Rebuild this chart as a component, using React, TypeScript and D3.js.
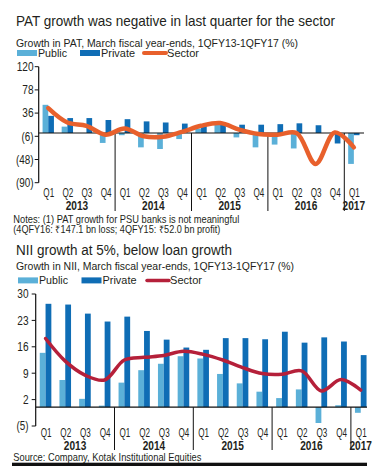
import React from "react";
import * as d3 from "d3";

const quarters = ["Q1","Q2","Q3","Q4","Q1","Q2","Q3","Q4","Q1","Q2","Q3","Q4","Q1","Q2","Q3","Q4","Q1"];
const years = ["2013","2013","2013","2013","2014","2014","2014","2014","2015","2015","2015","2015","2016","2016","2016","2016","2017"];

const patPublic: (number | null)[] = [51, 11.5, null, -18, -4, -26, -29, -11, 8, 18, -8, -26, -21, -28, null, null, -56];
const patPrivate: (number | null)[] = [31, 27, 27, 23.5, 25, 21, 19, 17, 16, 18, 15, 15, 16, 17.5, 14, -19, -4];
const patSector: number[] = [45, 19, 13, -3, 8, -6, -7, 2, 13, 18, 6, -2, -3, 0, -56, 1, -26];
const patTicks = [120, 78, 36, -6, -48, -90];

const niiPublic: (number | null)[] = [14.4, 7.2, 2.2, 0.4, 6.5, 9.8, 11.5, 13.5, 12.9, 8.8, 6.3, 4.1, 2.4, 4.7, -4.2, 0.5, -1.5];
const niiPrivate: (number | null)[] = [27.4, 27.2, 24.8, 22.7, 24, 20.2, 17.9, 15.8, 15.2, 18.3, 18.3, 18, 20, 17.1, 18.5, 17.4, 13.8];
const niiSector: number[] = [18.2, 12.2, 8.5, 7.2, 12.5, 13.2, 13.7, 14.8, 14.0, 12.5, 10.5, 8.9, 8.7, 9.6, 4.3, 7.3, 4.5];
const niiTicks = [30, 23, 16, 9, 2, -5];

const FONT = "'Liberation Sans', Arial, sans-serif";
const TXT = "#231f20";
const C_PUB = "#5bb0d8";
const C_PRI = "#0f6db5";

const fmt = (v: number) => (v < 0 ? `(${Math.abs(v)})` : `${v}`);
const tickW = (s: string) => s.split("").reduce((a, c) => a + (c === "(" || c === ")" ? 3.2 : 5.6), 0);

type TProps = {
  x: number;
  y: number;
  w?: number;
  size: number;
  anchor?: "start" | "middle" | "end";
  bold?: boolean;
  children: string;
};
function T({ x, y, w, size, anchor = "start", bold = false, children }: TProps) {
  return (
    <text
      x={x}
      y={y}
      fontSize={size}
      textAnchor={anchor}
      fontWeight={bold ? "bold" : "normal"}
      fill={TXT}
      textLength={w}
      lengthAdjust={w ? "spacingAndGlyphs" : undefined}
    >
      {children}
    </text>
  );
}

type PanelProps = {
  pub: (number | null)[];
  pri: (number | null)[];
  sec: number[];
  ticks: number[];
  yDomain: [number, number];
  yRange: [number, number];
  xRange: [number, number];
  innerPad: number;
  secColor: string;
  secWidth: number;
  qLabelY: number;
  yearLabelY: number;
  sepBottom: number;
  baselineEnd: number;
  tickLabelX: number;
};

function Panel(p: PanelProps) {
  const idx = d3.range(quarters.length).map(String);
  const x = d3.scaleBand().domain(idx).range(p.xRange).padding(0);
  const bw = x.bandwidth();
  const xi = d3.scaleBand().domain(["Public", "Private"]).range([0, bw]).paddingInner(0).paddingOuter(p.innerPad);
  const y = d3.scaleLinear().domain(p.yDomain).range(p.yRange);
  const cx = (i: number) => (x(String(i)) as number) + bw / 2;
  const line = d3
    .line<number>()
    .x((_, i) => cx(i))
    .y((d) => y(d))
    .curve(d3.curveCatmullRom.alpha(0.5));
  const axisX = p.xRange[0];
  const y0 = y(0);
  const bars = (vals: (number | null)[], key: string, color: string) =>
    vals.map((v, i) =>
      v == null ? null : (
        <rect
          key={key + i}
          x={(x(String(i)) as number) + (xi(key) as number)}
          width={xi.bandwidth()}
          y={Math.min(y(v), y0)}
          height={Math.abs(y(v) - y0)}
          fill={color}
        />
      )
    );
  const yearNames = Array.from(new Set(years));
  const seps: number[] = [];
  for (let i = 1; i < years.length; i++) if (years[i] !== years[i - 1]) seps.push(x(String(i)) as number);
  return (
    <g>
      {bars(p.pub, "Public", C_PUB)}
      {bars(p.pri, "Private", C_PRI)}
      <line x1={axisX} x2={p.baselineEnd} y1={y0} y2={y0} stroke="#111" strokeWidth={1.2} />
      <line x1={axisX} x2={axisX} y1={p.yRange[1]} y2={p.yRange[0]} stroke="#111" strokeWidth={1.2} />
      {p.ticks.map((t) => (
        <g key={t}>
          <line x1={axisX - 4} x2={axisX} y1={y(t)} y2={y(t)} stroke="#111" strokeWidth={1} />
          <T x={p.tickLabelX} y={y(t) + 4.3} size={12.5} anchor="end" w={tickW(fmt(t))}>
            {fmt(t)}
          </T>
        </g>
      ))}
      {seps.map((s, i) => (
        <line key={i} x1={s} x2={s} y1={y0} y2={p.sepBottom} stroke="#111" strokeWidth={1} />
      ))}
      <path d={line(p.sec) || ""} fill="none" stroke={p.secColor} strokeWidth={p.secWidth} strokeLinecap="round" />
      {quarters.map((q, i) => (
        <T key={i} x={cx(i) + 0.5} y={p.qLabelY} size={12} anchor="middle" w={10.8}>
          {q}
        </T>
      ))}
      {yearNames.map((yr) => {
        const ii = years.map((v, i) => (v === yr ? i : -1)).filter((i) => i >= 0);
        const mid = (cx(ii[0]) + cx(ii[ii.length - 1])) / 2;
        return (
          <T key={yr} x={mid} y={p.yearLabelY} size={12} anchor="middle" bold w={22.5}>
            {yr}
          </T>
        );
      })}
    </g>
  );
}

function Legend({ y, xs, secColor, secWidth }: { y: number; xs: number[]; secColor: string; secWidth: number }) {
  return (
    <g>
      <rect x={xs[0]} y={y - 7} width={20} height={6} fill={C_PUB} />
      <T x={xs[0] + 21} y={y} size={11.2} w={29}>Public</T>
      <rect x={xs[1]} y={y - 7} width={20} height={6} fill={C_PRI} />
      <T x={xs[1] + 21} y={y} size={11.2} w={34}>Private</T>
      <line x1={xs[2]} x2={xs[2] + 22} y1={y - 4} y2={y - 4} stroke={secColor} strokeWidth={secWidth} strokeLinecap="round" />
      <T x={xs[2] + 23} y={y} size={11.2} w={32}>Sector</T>
    </g>
  );
}

export default function App() {
  return (
    <div style={{ position: "absolute", left: 0, top: 0 }}>
      <svg width={379} height={474} style={{ display: "block", background: "#fff" }} fontFamily={FONT}>
        <T x={16} y={25.5} size={15} w={319}>PAT growth was negative in last quarter for the sector</T>
        <T x={16} y={46.5} size={11.5} w={282}>Growth in PAT, March fiscal year-ends, 1QFY13-1QFY17 (%)</T>
        <Legend y={57} xs={[17, 80, 144]} secColor="#e8602c" secWidth={4} />
        <Panel
          pub={patPublic}
          pri={patPrivate}
          sec={patSector}
          ticks={patTicks}
          yDomain={[-90, 120]}
          yRange={[182.7, 66.7]}
          xRange={[38.7, 363.4]}
          innerPad={0.68}
          secColor="#e8602c"
          secWidth={4.5}
          qLabelY={196.5}
          yearLabelY={210}
          sepBottom={211}
          baselineEnd={364}
          tickLabelX={33.5}
        />
        <T x={13.3} y={222.8} size={10.3} w={226}>Notes: (1) PAT growth for PSU banks is not meaningful</T>
        <T x={13.3} y={233.4} size={10.3} w={207}>(4QFY16: ₹147.1 bn loss; 4QFY15: ₹52.0 bn profit)</T>

        <T x={16} y={255} size={15.5} w={216}>NII growth at 5%, below loan growth</T>
        <T x={16} y={269.8} size={11.5} w={278}>Growth in NII, March fiscal year-ends, 1QFY13-1QFY17 (%)</T>
        <Legend y={284.4} xs={[18, 81.5, 147]} secColor="#b5203a" secWidth={3.5} />
        <Panel
          pub={niiPublic}
          pri={niiPrivate}
          sec={niiSector}
          ticks={niiTicks}
          yDomain={[-5, 30]}
          yRange={[426, 294]}
          xRange={[35.7, 370.6]}
          innerPad={0.7}
          secColor="#b5203a"
          secWidth={3.5}
          qLabelY={437}
          yearLabelY={449.5}
          sepBottom={450}
          baselineEnd={367}
          tickLabelX={28.5}
        />
        <T x={13.3} y={461} size={11.2} w={188}>Source: Company, Kotak Institutional Equities</T>
        <rect x={12} y={462.7} width={355} height={3.3} fill="#111" />
      </svg>
    </div>
  );
}
